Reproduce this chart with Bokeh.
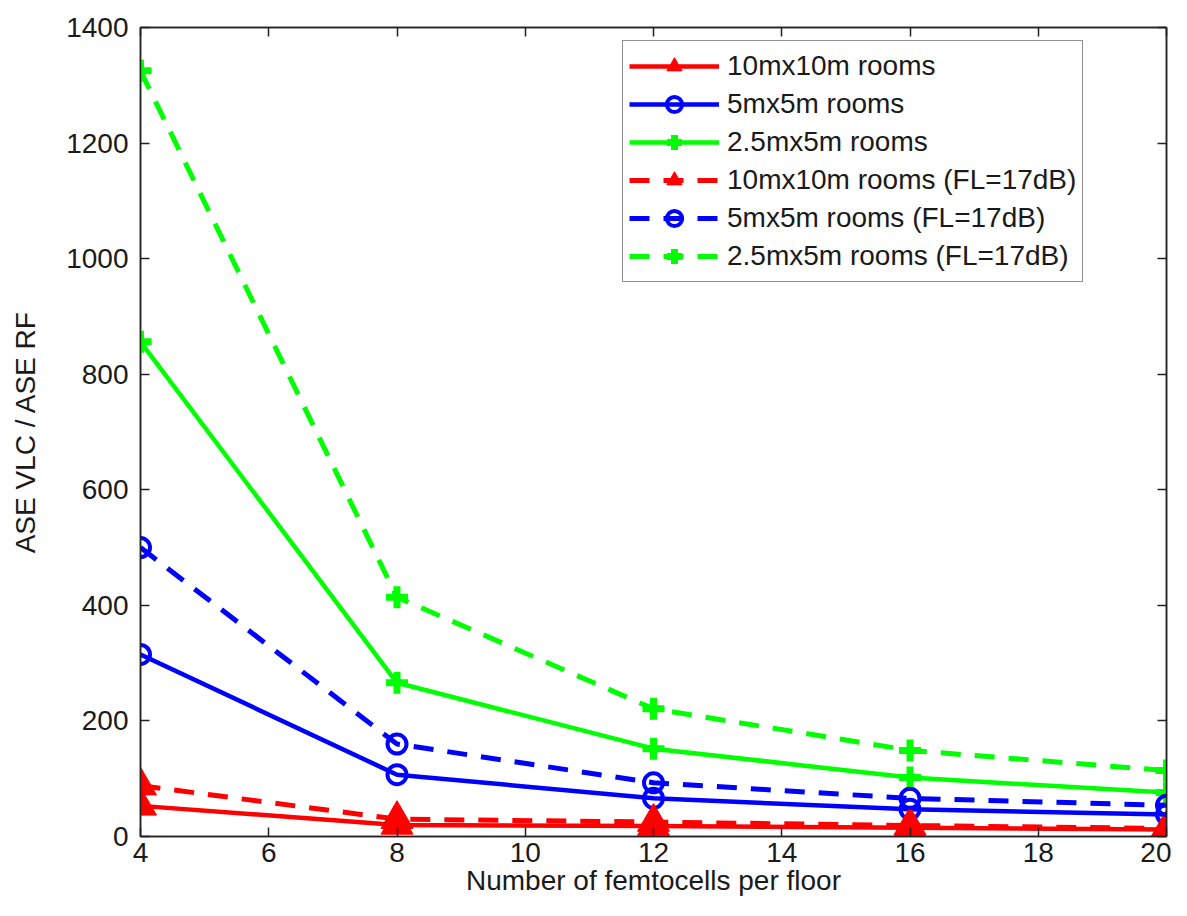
from bokeh.plotting import figure
from bokeh.models import Range1d, LinearAxis, FixedTicker, Legend
from bokeh.embed import file_html
from bokeh.resources import INLINE

# ---- data ----
femtocells = [4, 8, 12, 16, 20]
red_solid = [53, 20, 18, 15, 12]
blue_solid = [315, 107, 66, 47, 38]
green_solid = [856, 266, 152, 102, 76]
red_dashed = [88, 30, 25, 19, 14]
blue_dashed = [500, 160, 93, 66, 54]
green_dashed = [1325, 414, 221, 149, 114]

labels = ["10mx10m rooms", "5mx5m rooms", "2.5mx5m rooms",
          "10mx10m rooms (FL=17dB)", "5mx5m rooms (FL=17dB)", "2.5mx5m rooms (FL=17dB)"]
x_ticks = [4, 6, 8, 10, 12, 14, 16, 18, 20]
y_ticks = [0, 200, 400, 600, 800, 1000, 1200, 1400]

FONT = "Liberation Sans"
FS = "28px"

p = figure(width=1171, height=900, output_backend="svg", toolbar_location=None,
           x_range=Range1d(4, 20), y_range=Range1d(0, 1400),
           min_border_left=140, min_border_right=5, min_border_top=27, min_border_bottom=64)
p.xgrid.visible = False
p.ygrid.visible = False
p.outline_line_color = "#222222"
p.outline_line_width = 1.5
p.background_fill_color = "white"

def style_axis(ax, show_labels=True):
    ax.major_tick_in = 9
    ax.major_tick_out = 0
    ax.minor_tick_in = 0
    ax.minor_tick_out = 0
    ax.axis_line_color = "#222222"
    ax.axis_line_width = 1.5
    ax.major_tick_line_color = "#222222"
    ax.major_tick_line_width = 1.5
    ax.major_label_text_font = FONT
    ax.major_label_text_color = "#1a1a1a"
    if show_labels:
        ax.major_label_text_font_size = FS
    else:
        ax.major_label_text_font_size = "0px"
        ax.major_label_standoff = 0

p.xaxis.ticker = FixedTicker(ticks=x_ticks)
p.yaxis.ticker = FixedTicker(ticks=y_ticks)
style_axis(p.xaxis[0])
style_axis(p.yaxis[0])
p.xaxis.major_label_standoff = 6
p.yaxis.major_label_standoff = 12
p.xaxis.axis_label = "Number of femtocells per floor"
p.yaxis.axis_label = "ASE VLC / ASE RF"
for ax in (p.xaxis[0], p.yaxis[0]):
    ax.axis_label_text_font = FONT
    ax.axis_label_text_font_size = FS
    ax.axis_label_text_font_style = "normal"
    ax.axis_label_text_color = "#1a1a1a"
p.xaxis.axis_label_standoff = 0
p.yaxis.axis_label_standoff = 22

top = LinearAxis(ticker=FixedTicker(ticks=x_ticks))
style_axis(top, False)
p.add_layout(top, "above")
right = LinearAxis(ticker=FixedTicker(ticks=y_ticks))
style_axis(right, False)
p.add_layout(right, "right")

RED, BLUE, GREEN = "#ff0000", "#0000ff", "#00ff00"
DASH = "20 14"
items = []

def series(ys, color, dash, marker, label):
    lw = 4.5 if dash == "solid" else 5
    r1 = p.line(femtocells, ys, line_color=color, line_width=lw, line_dash=dash)
    if marker == "triangle":
        r2 = p.scatter(femtocells, ys, marker="triangle", size=32, fill_color=color,
                       line_color=color, line_width=1)
    elif marker == "circle":
        r2 = p.scatter(femtocells, ys, marker="circle", size=19, fill_color=None,
                       line_color=color, line_width=4)
    else:
        r2 = p.scatter(femtocells, ys, marker="cross", size=22, line_color=color,
                       line_width=7)
    items.append((label, [r1, r2]))

series(red_solid, RED, "solid", "triangle", labels[0])
series(blue_solid, BLUE, "solid", "circle", labels[1])
series(green_solid, GREEN, "solid", "cross", labels[2])
series(red_dashed, RED, DASH, "triangle", labels[3])
series(blue_dashed, BLUE, DASH, "circle", labels[4])
series(green_dashed, GREEN, DASH, "cross", labels[5])

legend = Legend(items=items, location=(482, 554))
legend.label_text_font = FONT
legend.label_text_font_size = FS
legend.label_text_color = "#1a1a1a"
legend.glyph_width = 90
legend.glyph_height = 38
legend.spacing = 0
legend.padding = 6
legend.margin = 0
legend.label_standoff = 8
legend.border_line_color = "#222222"
legend.border_line_width = 1.5
legend.background_fill_alpha = 1
p.add_layout(legend, "center")

open("out.html", "w").write(file_html(p, INLINE))
